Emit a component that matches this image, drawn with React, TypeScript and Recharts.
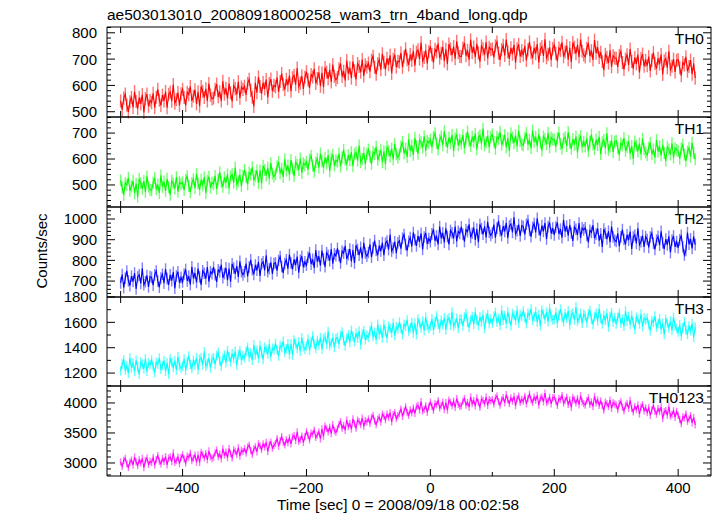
import React from "react";
import { LineChart, Line, XAxis, YAxis, ErrorBar } from "recharts";

// ---- data (time bins start at -500 s, 2.5 s apart; one row = 50 s) ----
const T_START = -500;
const T_STEP = 2.5;

const th0 = [
  541, 508, 552, 567, 525, 499, 538, 554, 516, 576, 539, 512, 554, 530, 565, 497, 550, 567, 521, 543,
  535, 570, 515, 555, 585, 544, 524, 563, 541, 577, 515, 566, 575, 540, 603, 533, 546, 573, 524, 568,
  585, 554, 524, 574, 565, 596, 541, 559, 583, 530, 576, 521, 596, 578, 554, 587, 541, 607, 563, 549,
  552, 585, 605, 556, 576, 541, 616, 567, 589, 550, 607, 572, 539, 599, 588, 566, 614, 552, 594, 585,
  597, 564, 608, 623, 581, 555, 520, 610, 572, 632, 596, 569, 611, 587, 622, 554, 607, 624, 578, 600,
  595, 630, 575, 615, 645, 604, 584, 623, 601, 637, 578, 629, 638, 603, 666, 596, 609, 636, 587, 631,
  652, 621, 591, 641, 632, 663, 608, 626, 650, 597, 648, 593, 668, 650, 626, 659, 613, 679, 635, 621,
  630, 663, 683, 634, 654, 619, 694, 645, 667, 628, 691, 656, 623, 683, 672, 650, 698, 636, 678, 669,
  685, 652, 696, 711, 669, 643, 682, 698, 660, 720, 688, 661, 703, 679, 714, 646, 699, 716, 670, 692,
  689, 724, 669, 709, 739, 698, 678, 717, 695, 731, 675, 726, 735, 700, 763, 693, 706, 733, 684, 728,
  748, 717, 687, 737, 728, 759, 704, 722, 746, 693, 737, 682, 757, 739, 715, 748, 702, 768, 724, 710,
  709, 742, 762, 713, 733, 698, 773, 724, 746, 707, 758, 723, 690, 750, 739, 717, 765, 703, 745, 736,
  739, 706, 750, 765, 723, 697, 736, 752, 714, 774, 728, 701, 743, 719, 754, 686, 739, 756, 710, 732,
  715, 750, 695, 735, 765, 724, 704, 743, 721, 757, 687, 738, 747, 712, 775, 705, 718, 745, 696, 740,
  753, 722, 692, 742, 733, 764, 709, 727, 751, 698, 743, 688, 763, 745, 721, 754, 708, 774, 730, 716,
  708, 741, 761, 712, 732, 697, 772, 723, 745, 706, 726, 691, 658, 718, 707, 685, 733, 671, 713, 704,
  703, 670, 714, 729, 687, 661, 700, 716, 678, 738, 691, 664, 706, 682, 717, 649, 702, 719, 673, 695,
  675, 710, 655, 695, 725, 684, 664, 703, 681, 717, 642, 693, 702, 667, 730, 660, 673, 700, 651, 695,
  698, 667, 637, 687, 678, 709, 654, 672, 696, 643, 683, 628,
];

const th1 = [
  518, 490, 462, 508, 500, 528, 478, 494, 516, 468, 505, 455, 523, 507, 485, 515, 473, 533, 493, 481,
  479, 509, 527, 483, 501, 469, 537, 493, 513, 477, 524, 492, 462, 516, 506, 486, 530, 474, 512, 504,
  510, 480, 520, 534, 496, 472, 508, 522, 488, 542, 506, 482, 520, 498, 530, 468, 516, 532, 490, 510,
  503, 535, 485, 521, 549, 511, 493, 529, 509, 541, 487, 533, 541, 509, 567, 503, 515, 539, 495, 535,
  558, 530, 502, 548, 540, 568, 518, 534, 556, 508, 556, 506, 574, 558, 536, 566, 524, 584, 544, 532,
  541, 571, 589, 545, 563, 531, 599, 555, 575, 539, 596, 564, 534, 588, 578, 558, 602, 546, 584, 576,
  589, 559, 599, 613, 575, 551, 587, 601, 567, 621, 591, 567, 605, 583, 615, 553, 601, 617, 575, 595,
  589, 621, 571, 607, 635, 597, 579, 615, 595, 627, 572, 618, 626, 594, 652, 588, 600, 624, 580, 620,
  637, 609, 581, 627, 619, 647, 597, 613, 635, 587, 630, 580, 648, 632, 610, 640, 598, 658, 618, 606,
  618, 648, 666, 622, 640, 608, 676, 632, 652, 616, 682, 650, 620, 674, 664, 644, 688, 632, 670, 662,
  675, 645, 685, 699, 661, 637, 673, 687, 653, 707, 669, 645, 683, 661, 693, 631, 679, 695, 653, 673,
  660, 692, 642, 678, 706, 668, 650, 686, 666, 698, 637, 683, 691, 659, 717, 653, 665, 689, 645, 685,
  695, 667, 639, 685, 677, 705, 655, 671, 693, 645, 681, 631, 699, 683, 661, 691, 649, 709, 669, 657,
  652, 682, 700, 656, 674, 642, 710, 666, 686, 650, 695, 663, 633, 687, 677, 657, 701, 645, 683, 675,
  675, 648, 681, 702, 658, 640, 677, 684, 650, 704, 663, 639, 677, 655, 687, 625, 673, 689, 647, 667,
  648, 680, 630, 666, 694, 656, 638, 674, 654, 686, 619, 665, 673, 641, 699, 635, 647, 671, 627, 667,
  671, 643, 615, 661, 653, 681, 631, 647, 669, 621, 650, 600, 668, 652, 630, 660, 618, 678, 638, 626,
  615, 645, 663, 619, 637, 605, 673, 629, 649, 613, 655, 623, 593, 647, 637, 617, 661, 605, 643, 635,
  631, 601, 641, 655, 617, 593, 629, 643, 609, 663, 623, 599,
];

const th2 = [
  691, 731, 668, 714, 749, 701, 678, 724, 698, 739, 662, 720, 730, 689, 762, 682, 697, 727, 672, 722,
  718, 680, 730, 748, 700, 670, 715, 733, 690, 758, 712, 682, 730, 702, 743, 665, 725, 745, 692, 718,
  696, 734, 756, 701, 724, 683, 769, 713, 739, 693, 760, 720, 682, 750, 738, 712, 768, 697, 745, 735,
  767, 731, 696, 754, 744, 779, 716, 736, 764, 704, 760, 697, 783, 763, 735, 773, 720, 795, 745, 730,
  745, 785, 722, 768, 803, 755, 732, 778, 752, 793, 725, 783, 793, 752, 825, 745, 760, 790, 735, 785,
  788, 750, 800, 818, 770, 740, 785, 803, 760, 828, 787, 757, 805, 777, 818, 740, 800, 820, 767, 793,
  777, 815, 837, 782, 805, 764, 850, 794, 820, 774, 847, 807, 769, 837, 825, 799, 855, 784, 832, 822,
  858, 822, 787, 845, 835, 870, 807, 827, 855, 795, 850, 787, 873, 853, 825, 863, 810, 885, 835, 820,
  838, 878, 815, 861, 896, 848, 825, 871, 845, 886, 825, 883, 893, 852, 925, 845, 860, 890, 835, 885,
  895, 857, 907, 925, 877, 847, 892, 910, 867, 935, 900, 870, 918, 890, 931, 853, 913, 933, 880, 906,
  890, 928, 950, 895, 918, 877, 963, 907, 933, 887, 955, 915, 877, 945, 933, 907, 963, 892, 940, 930,
  962, 926, 891, 949, 939, 974, 911, 931, 959, 899, 951, 888, 974, 954, 926, 964, 911, 986, 936, 921,
  933, 973, 910, 956, 991, 943, 920, 966, 940, 981, 908, 966, 976, 935, 1008, 928, 943, 973, 918, 968,
  963, 925, 975, 993, 945, 915, 960, 978, 935, 1003, 950, 920, 968, 940, 981, 903, 963, 983, 930, 956,
  923, 961, 983, 928, 951, 910, 996, 940, 966, 920, 972, 932, 894, 962, 950, 924, 980, 909, 957, 947,
  958, 922, 887, 945, 935, 970, 907, 927, 955, 895, 928, 865, 951, 931, 903, 941, 888, 963, 913, 898,
  891, 931, 868, 914, 949, 901, 878, 924, 898, 939, 855, 913, 923, 882, 955, 875, 890, 920, 865, 915,
  901, 863, 913, 931, 883, 853, 898, 916, 873, 941, 885, 855, 903, 875, 916, 838, 898, 918, 865, 891,
  861, 899, 921, 866, 826, 848, 934, 878, 904, 858, 916, 876,
];

const th3 = [
  1218, 1271, 1302, 1225, 1257, 1200, 1320, 1242, 1278, 1214, 1301, 1245, 1192, 1287, 1270, 1234, 1312, 1213, 1280, 1266,
  1302, 1252, 1203, 1284, 1270, 1319, 1231, 1259, 1298, 1214, 1280, 1192, 1312, 1284, 1245, 1298, 1224, 1329, 1259, 1238,
  1254, 1310, 1222, 1286, 1335, 1268, 1236, 1300, 1264, 1321, 1227, 1308, 1322, 1265, 1367, 1255, 1276, 1318, 1241, 1311,
  1321, 1268, 1338, 1363, 1296, 1254, 1317, 1342, 1282, 1377, 1329, 1287, 1354, 1315, 1372, 1263, 1347, 1375, 1301, 1337,
  1320, 1373, 1404, 1327, 1359, 1302, 1422, 1344, 1380, 1316, 1417, 1361, 1308, 1403, 1386, 1350, 1428, 1329, 1396, 1382,
  1434, 1384, 1335, 1416, 1402, 1451, 1363, 1391, 1430, 1346, 1429, 1341, 1461, 1433, 1394, 1447, 1373, 1478, 1408, 1387,
  1412, 1468, 1380, 1444, 1493, 1426, 1394, 1458, 1422, 1479, 1388, 1469, 1483, 1426, 1528, 1416, 1437, 1479, 1402, 1472,
  1481, 1428, 1498, 1523, 1456, 1414, 1477, 1502, 1442, 1537, 1489, 1447, 1514, 1475, 1532, 1423, 1507, 1535, 1461, 1497,
  1482, 1535, 1566, 1489, 1521, 1464, 1584, 1506, 1542, 1478, 1584, 1528, 1475, 1570, 1553, 1517, 1595, 1496, 1563, 1549,
  1602, 1552, 1503, 1584, 1570, 1619, 1531, 1559, 1598, 1514, 1592, 1504, 1624, 1596, 1557, 1610, 1536, 1641, 1571, 1550,
  1570, 1626, 1538, 1602, 1651, 1584, 1552, 1616, 1580, 1637, 1541, 1622, 1636, 1579, 1681, 1569, 1590, 1632, 1555, 1625,
  1625, 1572, 1642, 1667, 1600, 1558, 1621, 1646, 1586, 1681, 1617, 1575, 1642, 1603, 1660, 1551, 1635, 1663, 1589, 1625,
  1594, 1647, 1678, 1601, 1633, 1576, 1696, 1618, 1654, 1590, 1683, 1627, 1574, 1669, 1652, 1616, 1694, 1595, 1662, 1648,
  1689, 1639, 1590, 1671, 1657, 1706, 1618, 1646, 1685, 1601, 1662, 1574, 1694, 1666, 1627, 1680, 1606, 1711, 1641, 1620,
  1623, 1679, 1591, 1655, 1704, 1637, 1605, 1669, 1633, 1690, 1580, 1661, 1675, 1618, 1720, 1608, 1629, 1671, 1594, 1664,
  1651, 1598, 1668, 1693, 1626, 1584, 1647, 1672, 1612, 1707, 1629, 1587, 1654, 1615, 1672, 1563, 1647, 1675, 1601, 1637,
  1587, 1640, 1671, 1594, 1626, 1569, 1689, 1611, 1647, 1583, 1654, 1598, 1545, 1640, 1623, 1587, 1665, 1566, 1633, 1619,
  1633, 1583, 1534, 1615, 1601, 1650, 1562, 1590, 1629, 1545, 1592, 1504, 1624, 1596, 1557, 1610, 1536, 1641, 1571, 1550,
  1524, 1580, 1492, 1556, 1605, 1538, 1506, 1570, 1534, 1591, 1482, 1563,
];

const th0123 = [
  3019, 2944, 3044, 3079, 2984, 2924, 3014, 3049, 2964, 3099, 3016, 2956, 3051, 2996, 3076, 2921, 3041, 3081, 2976, 3026,
  3010, 3090, 2965, 3055, 3125, 3030, 2985, 3075, 3025, 3105, 2968, 3083, 3103, 3023, 3168, 3008, 3038, 3098, 2988, 3088,
  3138, 3068, 2998, 3113, 3093, 3163, 3038, 3078, 3133, 3013, 3133, 3008, 3178, 3138, 3083, 3158, 3053, 3203, 3103, 3073,
  3095, 3170, 3215, 3105, 3150, 3070, 3240, 3130, 3180, 3090, 3240, 3160, 3085, 3220, 3195, 3145, 3255, 3115, 3210, 3190,
  3240, 3165, 3265, 3300, 3205, 3145, 3235, 3270, 3185, 3320, 3285, 3225, 3320, 3265, 3345, 3190, 3310, 3350, 3245, 3295,
  3325, 3405, 3280, 3370, 3440, 3345, 3300, 3390, 3340, 3420, 3320, 3435, 3455, 3375, 3520, 3360, 3390, 3450, 3340, 3440,
  3525, 3455, 3385, 3500, 3480, 3550, 3425, 3465, 3520, 3400, 3570, 3445, 3615, 3575, 3520, 3595, 3490, 3640, 3540, 3510,
  3570, 3645, 3690, 3580, 3625, 3545, 3715, 3605, 3655, 3565, 3735, 3655, 3580, 3715, 3690, 3640, 3750, 3610, 3705, 3685,
  3735, 3660, 3760, 3795, 3700, 3640, 3730, 3765, 3680, 3815, 3780, 3720, 3815, 3760, 3840, 3685, 3805, 3845, 3740, 3790,
  3820, 3900, 3775, 3865, 3935, 3840, 3795, 3885, 3835, 3915, 3825, 3940, 3960, 3880, 4025, 3865, 3895, 3955, 3845, 3945,
  4015, 3945, 3875, 3990, 3970, 4040, 3915, 3955, 4010, 3890, 4005, 3880, 4050, 4010, 3955, 4030, 3925, 4075, 3975, 3945,
  3955, 4030, 4075, 3965, 4010, 3930, 4100, 3990, 4040, 3950, 4085, 4005, 3930, 4065, 4040, 3990, 4100, 3960, 4055, 4035,
  4058, 3983, 4083, 4118, 4023, 3963, 4053, 4088, 4003, 4138, 4050, 3990, 4085, 4030, 4110, 3955, 4075, 4115, 4010, 4060,
  4032, 4112, 3987, 4077, 4147, 4052, 4007, 4097, 4047, 4127, 3965, 4080, 4100, 4020, 4165, 4005, 4035, 4095, 3985, 4085,
  4100, 4030, 3960, 4075, 4055, 4125, 4000, 4040, 4095, 3975, 4050, 3925, 4095, 4055, 4000, 4075, 3970, 4120, 4020, 3990,
  3965, 4040, 4085, 3975, 4020, 3940, 4110, 4000, 4050, 3960, 4035, 3955, 3880, 4015, 3990, 3940, 4050, 3910, 4005, 3985,
  3965, 3890, 3990, 4025, 3930, 3870, 3960, 3995, 3910, 4045, 3910, 3850, 3945, 3890, 3970, 3815, 3935, 3975, 3870, 3920,
  3840, 3920, 3795, 3885, 3955, 3860, 3815, 3905, 3855, 3935, 3740, 3855, 3875, 3795, 3940, 3780, 3810, 3870, 3760, 3860,
  3795, 3725, 3655, 3770, 3750, 3820, 3695, 3735, 3790, 3670, 3760, 3635,
];

const errTH0 = 25;
const errTH1 = 23;
const errTH2 = 28;
const errTH3 = 38;
const errTH0123 = 60;

const labels = ["TH0", "TH1", "TH2", "TH3", "TH0123"];

const xMajorTicks = [-400, -200, 0, 200, 400];
const xMinorTicks = [-500, -300, -100, 100, 300];

const th0Major = [500, 600, 700, 800];
const th1Major = [500, 600, 700];
const th2Major = [700, 800, 900, 1000];
const th3Major = [1200, 1400, 1600, 1800];
const th0123Major = [3000, 3500, 4000];

const th0Minor = [500, 520, 540, 560, 580, 600, 620, 640, 660, 680, 700, 720, 740, 760, 780, 800, 820];
const th1Minor = [420, 440, 460, 480, 500, 520, 540, 560, 580, 600, 620, 640, 660, 680, 700, 720, 740, 760];
const th2Minor = [640, 660, 680, 700, 720, 740, 760, 780, 800, 820, 840, 860, 880, 900, 920, 940, 960, 980, 1000, 1020, 1040];
const th3Minor = [1100, 1200, 1300, 1400, 1500, 1600, 1700, 1800];
const th0123Minor = [2800, 2900, 3000, 3100, 3200, 3300, 3400, 3500, 3600, 3700, 3800, 3900, 4000, 4100, 4200];

const titleText = "ae503013010_20080918000258_wam3_trn_4band_long.qdp";
const xLabel = "Time [sec] 0 = 2008/09/18 00:02:58";
const yLabel = "Counts/sec";

// ---- layout / style ----
const FONT = "'Liberation Sans', Arial, Helvetica, sans-serif";
const W = 717;
const PLOT_L = 107;
const PLOT_R = 711;
const PAD = 20;
const X_DOMAIN: [number, number] = [-522, 453];
const tops = [27, 117, 207, 297, 386];
const heights = [90, 90, 90, 89, 90];

const panels = [
  { values: th0, err: errTH0, color: "#ff0000", light: "rgba(255,0,0,0.55)", domain: [480, 822], major: th0Major, minor: th0Minor },
  { values: th1, err: errTH1, color: "#00ff00", light: "rgba(0,255,0,0.55)", domain: [415, 762], major: th1Major, minor: th1Minor },
  { values: th2, err: errTH2, color: "#0000ff", light: "rgba(0,0,255,0.5)", domain: [623, 1058], major: th2Major, minor: th2Minor },
  { values: th3, err: errTH3, color: "#00ffff", light: "rgba(0,255,255,0.6)", domain: [1098, 1800], major: th3Major, minor: th3Minor },
  { values: th0123, err: errTH0123, color: "#ff00ff", light: "rgba(255,0,255,0.55)", domain: [2783, 4283], major: th0123Major, minor: th0123Minor },
];

const fmt = (v: number) => (v < 0 ? "\u2212" + Math.abs(v) : String(v));

function makeYTick(side: "left" | "right", majors: number[]) {
  return (p: any) => {
    const { x, y, payload } = p;
    const v = payload.value;
    const major = majors.includes(v);
    const len = major ? 8 : 4;
    const dir = side === "left" ? 1 : -1;
    return (
      <g>
        <line x1={x} y1={y} x2={x + dir * len} y2={y} stroke="#000" strokeWidth={1} />
        {side === "left" && major ? (
          <text x={x - 10} y={y} dy="0.36em" textAnchor="end" fontSize={15} fontFamily={FONT} fill="#000">
            {v}
          </text>
        ) : null}
      </g>
    );
  };
}

function makeXTick(side: "top" | "bottom", showLabels: boolean) {
  return (p: any) => {
    const { x, y, payload } = p;
    const v = payload.value;
    const major = xMajorTicks.includes(v);
    const len = major ? 7 : side === "bottom" && showLabels ? 4 : 6;
    const dir = side === "top" ? 1 : -1;
    return (
      <g>
        <line x1={x} y1={y} x2={x} y2={y + dir * len} stroke="#000" strokeWidth={1} />
        {showLabels && major ? (
          <text x={x} y={y + 17} textAnchor="middle" fontSize={15} fontFamily={FONT} fill="#000">
            {fmt(v)}
          </text>
        ) : null}
      </g>
    );
  };
}

function Panel({ idx }: { idx: number }) {
  const p = panels[idx];
  const last = idx === panels.length - 1;
  const data = p.values.map((v, i) => ({ t: T_START + i * T_STEP, v, e: p.err }));
  const plotH = heights[idx];
  const bottomH = last ? 40 : PAD;
  const allX = [...xMinorTicks, ...xMajorTicks].sort((a, b) => a - b);
  const allY = Array.from(new Set([...p.minor, ...p.major])).sort((a, b) => a - b);
  return (
    <div style={{ position: "absolute", left: 0, top: tops[idx] - PAD, width: W, height: PAD + plotH + bottomH }}>
      <LineChart width={W} height={PAD + plotH + bottomH} data={data} margin={{ top: 0, right: 0, bottom: 0, left: 0 }}>
        <XAxis
          xAxisId="b"
          dataKey="t"
          type="number"
          domain={X_DOMAIN}
          allowDataOverflow
          ticks={allX}
          interval={0}
          orientation="bottom"
          height={bottomH}
          tickSize={0}
          tickMargin={0}
          tickLine={false}
          axisLine={{ stroke: "#000", strokeWidth: 1 }}
          tick={makeXTick("bottom", last)}
        />
        <XAxis
          xAxisId="t"
          dataKey="t"
          type="number"
          domain={X_DOMAIN}
          allowDataOverflow
          ticks={allX}
          interval={0}
          orientation="top"
          height={PAD}
          tickSize={0}
          tickMargin={0}
          tickLine={false}
          axisLine={{ stroke: "#000", strokeWidth: 1 }}
          tick={makeXTick("top", false)}
        />
        <YAxis
          yAxisId="l"
          type="number"
          domain={p.domain}
          allowDataOverflow
          ticks={allY}
          interval={0}
          orientation="left"
          width={PLOT_L}
          tickSize={0}
          tickMargin={0}
          tickLine={false}
          axisLine={{ stroke: "#000", strokeWidth: 1 }}
          tick={makeYTick("left", p.major)}
        />
        <YAxis
          yAxisId="r"
          type="number"
          domain={p.domain}
          allowDataOverflow
          ticks={allY}
          interval={0}
          orientation="right"
          width={W - PLOT_R}
          tickSize={0}
          tickMargin={0}
          tickLine={false}
          axisLine={{ stroke: "#000", strokeWidth: 1 }}
          tick={makeYTick("right", p.major)}
        />
        <Line
          xAxisId="b"
          yAxisId="l"
          type="linear"
          dataKey="v"
          stroke={p.color}
          strokeWidth={1.1}
          dot={false}
          activeDot={false}
          isAnimationActive={false}
        >
          <ErrorBar dataKey="e" direction="y" width={0} stroke={p.light} strokeWidth={1.4} isAnimationActive={false} />
        </Line>
      </LineChart>
      <div
        style={{
          position: "absolute",
          right: W - 704,
          top: PAD + 4,
          fontFamily: FONT,
          fontSize: 15.5,
          lineHeight: "16px",
          color: "#000",
        }}
      >
        {labels[idx]}
      </div>
    </div>
  );
}

export default function App() {
  return (
    <div style={{ position: "absolute", left: 0, top: 0, width: W, height: 516, background: "#fff", overflow: "hidden" }}>
      {panels.map((_, i) => (
        <Panel key={i} idx={i} />
      ))}
      <svg width={W} height={516} style={{ position: "absolute", left: 0, top: 0, pointerEvents: "none" }}>
        <text x={PLOT_L} y={20} fontSize={15.5} fontFamily={FONT} fill="#000">
          {titleText}
        </text>
        <text x={398} y={510} textAnchor="middle" fontSize={15.4} fontFamily={FONT} fill="#000">
          {xLabel}
        </text>
        <text
          x={47}
          y={251}
          textAnchor="middle"
          fontSize={15}
          fontFamily={FONT}
          fill="#000"
          transform="rotate(-90 47 251)"
        >
          {yLabel}
        </text>
      </svg>
    </div>
  );
}
